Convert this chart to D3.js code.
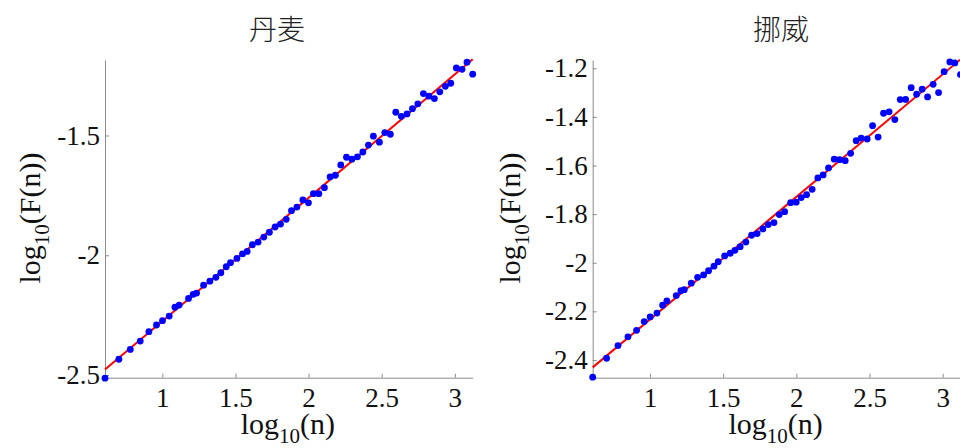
<!DOCTYPE html>
<html>
<head>
<meta charset="utf-8">
<script src="https://cdn.jsdelivr.net/npm/d3@7"></script>
<style>
  body { margin: 0; background: #fff; }
  svg { display: block; }
  .domain, .tick line { stroke: #8c8c8c; }
  .lab { font-family: "Liberation Serif", "Times New Roman", serif; font-size: 30px; fill: #111; }
  .title { font-family: "Noto Sans CJK SC", sans-serif; font-size: 28px; font-weight: 300; fill: #222; }
</style>
</head>
<body>
<svg id="chart" width="960" height="448"></svg>
<script>
// log10(n), shared by both countries
var logN = [0.608, 0.703, 0.781, 0.849, 0.908, 0.960, 1.001, 1.047, 1.086, 1.115,
  1.179, 1.211, 1.234, 1.282, 1.325, 1.366, 1.400, 1.437, 1.466, 1.510,
  1.548, 1.580, 1.616, 1.655, 1.694, 1.732, 1.771, 1.808, 1.847, 1.883,
  1.920, 1.961, 1.999, 2.033, 2.070, 2.108, 2.147, 2.183, 2.220, 2.259,
  2.296, 2.334, 2.371, 2.409, 2.443, 2.484, 2.521, 2.559, 2.596, 2.634,
  2.673, 2.710, 2.747, 2.785, 2.822, 2.860, 2.897, 2.935, 2.972, 3.010,
  3.049, 3.083, 3.122];

// log10(F(n)) - Denmark
var denmarkF = [-2.513, -2.434, -2.393, -2.358, -2.319, -2.291, -2.273, -2.254, -2.217, -2.208,
  -2.180, -2.163, -2.158, -2.125, -2.108, -2.092, -2.073, -2.048, -2.031, -2.013,
  -1.994, -1.984, -1.956, -1.945, -1.924, -1.904, -1.882, -1.870, -1.850, -1.814,
  -1.799, -1.769, -1.781, -1.743, -1.743, -1.718, -1.673, -1.666, -1.623, -1.591,
  -1.599, -1.589, -1.569, -1.540, -1.503, -1.528, -1.488, -1.495, -1.403, -1.420,
  -1.410, -1.388, -1.368, -1.325, -1.336, -1.346, -1.318, -1.295, -1.282, -1.218,
  -1.224, -1.194, -1.244];

// log10(F(n)) - Norway
var norwayF = [-2.471, -2.393, -2.341, -2.305, -2.278, -2.242, -2.223, -2.207, -2.175, -2.157,
  -2.135, -2.115, -2.111, -2.084, -2.060, -2.050, -2.033, -2.014, -1.996, -1.972,
  -1.961, -1.949, -1.934, -1.915, -1.887, -1.880, -1.861, -1.843, -1.835, -1.802,
  -1.790, -1.753, -1.751, -1.732, -1.720, -1.698, -1.651, -1.639, -1.610, -1.574,
  -1.576, -1.580, -1.550, -1.498, -1.487, -1.491, -1.436, -1.483, -1.385, -1.379,
  -1.411, -1.329, -1.328, -1.280, -1.307, -1.286, -1.318, -1.266, -1.300, -1.214,
  -1.174, -1.178, -1.226];

// linear fits (slope, intercept)
var fitSlope = [0.515, 0.504];
var fitIntercept = [-2.790, -2.737];

var panelTitles = ["丹麦", "挪威"];
var xTicks = [1, 1.5, 2, 2.5, 3];
var yTicksDK = [-2.5, -2, -1.5];
var yTicksNO = [-2.4, -2.2, -2, -1.8, -1.6, -1.4, -1.2];

var svg = d3.select("#chart");
var serif = "'Liberation Serif', 'Times New Roman', serif";

var panels = [
  {ys: denmarkF, title: panelTitles[0], yt: yTicksDK, ydom: [-2.511, -1.185],
   left: 105, right: 472.7, titleX: 277, labX: 40},
  {ys: norwayF, title: panelTitles[1], yt: yTicksNO, ydom: [-2.473, -1.166],
   left: 592.7, right: 960.5, titleX: 781, labX: 520}
];
var plotTop = 60, plotBottom = 377.7;

panels.forEach(function(p, i) {
  var x = d3.scaleLinear().domain([0.608, 3.122]).range([p.left, p.right]);
  var y = d3.scaleLinear().domain(p.ydom).range([plotBottom, plotTop]);

  var g = svg.append("g");

  g.append("g")
    .attr("transform", "translate(0," + plotBottom + ")")
    .call(d3.axisBottom(x).tickValues(xTicks).tickSize(-4).tickSizeOuter(0).tickPadding(10)
      .tickFormat(d3.format("")))
    .attr("font-family", serif).attr("font-size", 27);

  g.append("g")
    .attr("transform", "translate(" + p.left + ",0)")
    .call(d3.axisLeft(y).tickValues(p.yt).tickSize(-4).tickSizeOuter(0).tickPadding(5)
      .tickFormat(function(d) { return String(d); }))
    .attr("font-family", serif).attr("font-size", 27);

  g.selectAll(".tick text").attr("fill", "#111");

  // fit line
  var xd = x.domain();
  g.append("line")
    .attr("x1", x(xd[0])).attr("y1", y(fitSlope[i] * xd[0] + fitIntercept[i]))
    .attr("x2", x(xd[1])).attr("y2", y(fitSlope[i] * xd[1] + fitIntercept[i]))
    .attr("stroke", "#ff0000")
    .attr("stroke-width", 2);

  // data points
  g.selectAll("circle.pt")
    .data(logN.map(function(d, k) { return [d, p.ys[k]]; }))
    .enter().append("circle")
    .attr("class", "pt")
    .attr("cx", function(d) { return x(d[0]); })
    .attr("cy", function(d) { return y(d[1]); })
    .attr("r", 3.4)
    .attr("fill", "#0000ff");

  // title
  g.append("text").attr("class", "title")
    .attr("x", p.titleX).attr("y", 40)
    .attr("text-anchor", "middle")
    .text(p.title);

  // x label
  var xl = g.append("text").attr("class", "lab")
    .attr("x", (p.left + p.right) / 2 - 1).attr("y", 434)
    .attr("text-anchor", "middle");
  xl.append("tspan").text("log");
  xl.append("tspan").attr("dy", 9).attr("font-size", 21).text("10");
  xl.append("tspan").attr("dy", -9).text("(n)");

  // y label
  var yl = g.append("text").attr("class", "lab")
    .attr("transform", "translate(" + p.labX + ",218) rotate(-90)")
    .attr("text-anchor", "middle");
  yl.append("tspan").text("log");
  yl.append("tspan").attr("dy", 9).attr("font-size", 21).text("10");
  yl.append("tspan").attr("dy", -9).text("(F(n))");
});
</script>
</body>
</html>
